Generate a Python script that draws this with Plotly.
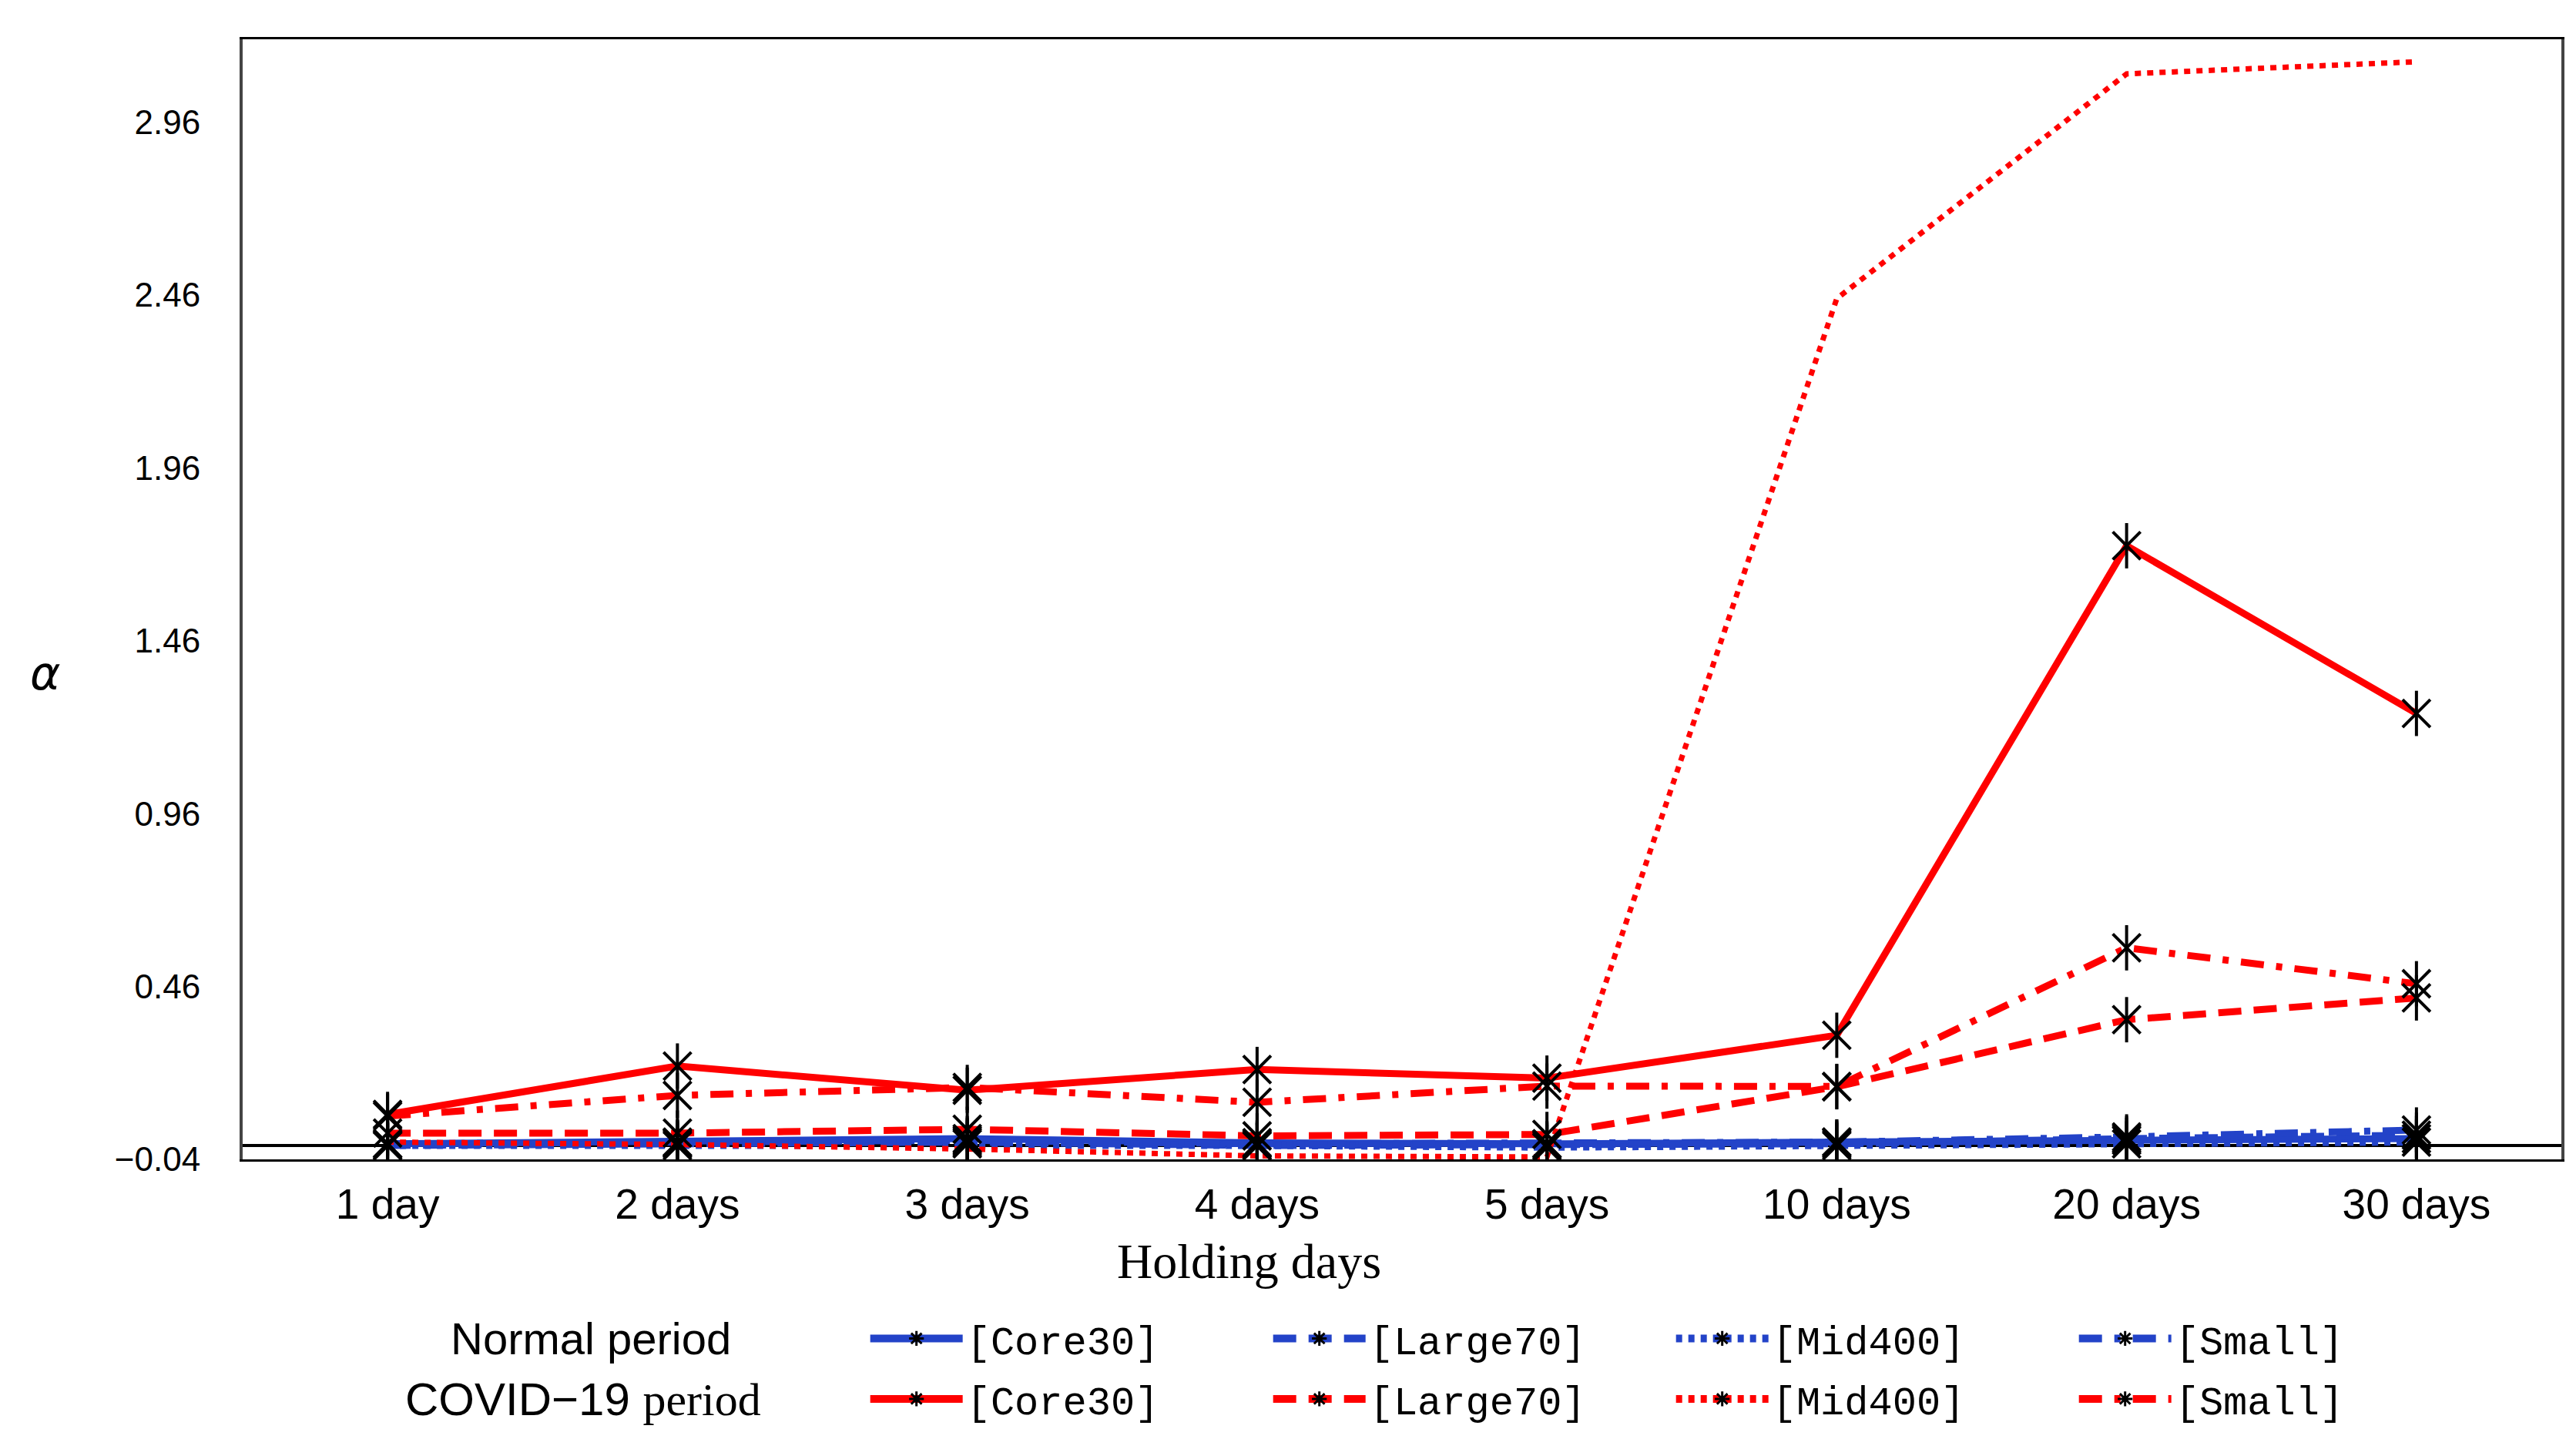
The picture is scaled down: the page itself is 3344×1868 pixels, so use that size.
import plotly.graph_objects as go

categories = ["1 day", "2 days", "3 days", "4 days", "5 days", "10 days", "20 days", "30 days"]

# Normal period
normal_core30 = [0.005, 0.010, 0.020, 0.008, 0.005, 0.010, 0.015, 0.020]
normal_large70 = [0.000, 0.005, 0.010, 0.000, 0.000, 0.005, 0.020, 0.030]
normal_mid400 = [0.000, 0.000, 0.005, 0.000, -0.005, 0.000, 0.005, 0.010]
normal_small = [0.005, 0.008, 0.015, 0.005, 0.005, 0.010, 0.025, 0.045]

# COVID-19 period
covid_core30 = [0.09, 0.23, 0.16, 0.22, 0.195, 0.319, 1.735, 1.25]
covid_large70 = [0.036, 0.036, 0.047, 0.028, 0.032, 0.17, 0.364, 0.427]
covid_mid400 = [0.010, 0.003, -0.010, -0.030, -0.033, 2.45, 3.10, 3.135]
covid_small = [0.085, 0.145, 0.168, 0.125, 0.172, 0.171, 0.572, 0.468]

y_tickvals = [-0.04, 0.46, 0.96, 1.46, 1.96, 2.46, 2.96]
y_ticktext = ["\u22120.04", "0.46", "0.96", "1.46", "1.96", "2.46", "2.96"]

series_names = ["[Core30]", "[Large70]", "[Mid400]", "[Small]"]

BLUE = "#2343C8"
RED = "#FF0000"
LW = 9
dashes = ["solid", "30px,16px", "8px,8px", "30px,16px,8px,16px"]

normal_series = [normal_core30, normal_large70, normal_mid400, normal_small]
covid_series = [covid_core30, covid_large70, covid_mid400, covid_small]
covid_has_markers = [True, True, False, True]

fig = go.Figure()

# lines
for vals, dsh in zip(normal_series, dashes):
    fig.add_trace(go.Scatter(x=categories, y=vals, mode="lines",
                             line=dict(color=BLUE, width=LW, dash=dsh),
                             showlegend=False, hoverinfo="skip"))
for vals, dsh in zip(covid_series, dashes):
    fig.add_trace(go.Scatter(x=categories, y=vals, mode="lines",
                             line=dict(color=RED, width=LW if dsh != "8px,8px" else 7, dash=dsh),
                             showlegend=False, hoverinfo="skip"))

# markers on top: vertical bar + X (asterisk without horizontal arm)
marker_parts = [dict(symbol="line-ns-open", size=42, color="black", line=dict(color="black", width=4)),
                dict(symbol="x-thin-open", size=36, color="black", line=dict(color="black", width=4))]
for part in marker_parts:
    for vals in normal_series:
        fig.add_trace(go.Scatter(x=categories, y=vals, mode="markers",
                                 marker=part, showlegend=False, hoverinfo="skip"))
    for vals, has_m in zip(covid_series, covid_has_markers):
        if has_m:
            fig.add_trace(go.Scatter(x=categories, y=vals, mode="markers",
                                     marker=part, showlegend=False, hoverinfo="skip"))

legend_marker = dict(symbol="asterisk-open", size=40, color="black",
                     line=dict(color="black", width=3))
for name, dsh in zip(series_names, dashes):
    fig.add_trace(go.Scatter(x=[None], y=[None], mode="lines+markers", name=name,
                             line=dict(color=BLUE, width=10, dash=dsh),
                             marker=legend_marker, legend="legend"))
for name, dsh in zip(series_names, dashes):
    fig.add_trace(go.Scatter(x=[None], y=[None], mode="lines+markers", name=name,
                             line=dict(color=RED, width=10, dash=dsh),
                             marker=legend_marker, legend="legend2"))

legend_font = dict(family="Liberation Mono, DejaVu Sans Mono, monospace",
                   size=52, color="black")
legend_common = dict(orientation="h", xanchor="left", yanchor="middle",
                     font=legend_font, itemwidth=120, entrywidth=388,
                     bgcolor="rgba(0,0,0,0)", tracegroupgap=0, itemsizing="trace")

fig.update_layout(
    width=3344, height=1868,
    paper_bgcolor="white", plot_bgcolor="white",
    margin=dict(l=307, r=27, t=43, b=371),
    showlegend=True,
    legend=dict(x=0.269, y=-0.160, **legend_common),
    legend2=dict(x=0.269, y=-0.214, **legend_common),
    xaxis=dict(
        type="category", range=[-0.5, 7.5],
        showgrid=False, zeroline=False,
        showline=True, linecolor="black", linewidth=3, mirror=True,
        ticks="", ticklabelstandoff=8,
        tickfont=dict(family="Liberation Sans, Arial", size=55, color="black"),
    ),
    yaxis=dict(
        range=[-0.04, 3.2],
        tickvals=y_tickvals, ticktext=y_ticktext,
        showgrid=False,
        zeroline=True, zerolinecolor="black", zerolinewidth=4,
        showline=True, linecolor="#444", linewidth=4, mirror=True,
        ticks="", ticklabelstandoff=42,
        tickfont=dict(family="Liberation Sans, Arial", size=44, color="black"),
    ),
    annotations=[
        dict(text="Holding days", xref="paper", yref="paper", x=0.434, y=-0.091,
             showarrow=False, xanchor="center", yanchor="middle",
             font=dict(family="Liberation Serif, Times New Roman, serif", size=64, color="black")),
        dict(text="<i>\u03b1</i>", xref="paper", yref="paper", x=-0.085, y=0.434,
             showarrow=False, xanchor="center", yanchor="middle",
             font=dict(family="DejaVu Sans, Liberation Sans", size=60, color="black")),
        dict(text="Normal period", xref="paper", yref="paper", x=0.150, y=-0.160,
             showarrow=False, xanchor="center", yanchor="middle",
             font=dict(family="Liberation Sans, Arial", size=58, color="black")),
        dict(text="COVID\u221219 <span style='font-family:Liberation Serif'>period</span>",
             xref="paper", yref="paper", x=0.147, y=-0.214,
             showarrow=False, xanchor="center", yanchor="middle",
             font=dict(family="Liberation Sans, Arial", size=60, color="black")),
    ],
)

fig.write_html("out.html")
